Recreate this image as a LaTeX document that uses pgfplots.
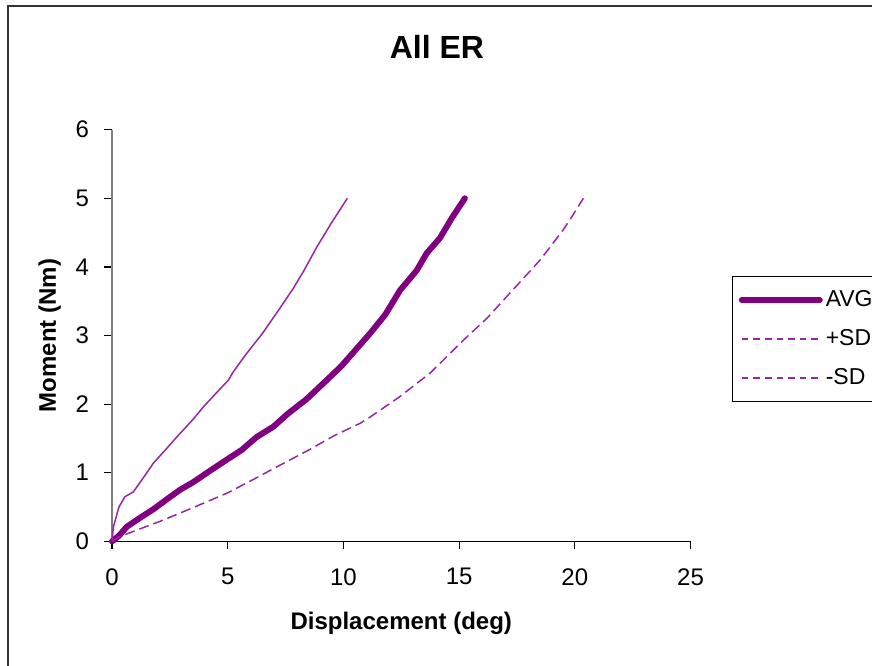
\documentclass[border=0pt]{standalone}
\usepackage{pgfplots}
\pgfplotsset{compat=1.18}
\usepackage{fontspec}
\setmainfont{Liberation Sans}
\definecolor{avg}{RGB}{128,0,128}
\definecolor{sd}{RGB}{150,40,160}
\begin{document}
\begin{tikzpicture}[x=1pt,y=1pt]
\path[use as bounding box] (0,0) rectangle (436,332.5);
\draw[line width=0.8pt, black!80] (4,-5) -- (4,329.5) -- (445,329.5);
\node[font=\bfseries\fontsize{16}{18}\selectfont] at (218.5,309) {All ER};
\begin{axis}[
  at={(56pt,61.85pt)}, anchor=south west,
  scale only axis, width=289.25pt, height=205.8pt,
  xmin=0, xmax=25, ymin=0, ymax=6,
  axis x line*=bottom, axis y line*=left,
  axis line style={-},
  x axis line style={black, line width=0.6pt},
  y axis line style={black!50, line width=1pt},
  xtick={0,5,...,25}, ytick={0,1,...,6},
  tick align=outside, major tick length=4pt,
  tick style={black, line width=0.6pt},
  ticklabel style={font=\fontsize{12}{14}\selectfont},
  /pgf/number format/assume math mode=true,
  xticklabel style={yshift=-6pt},
  yticklabel style={xshift=-4pt},
  xlabel={\bfseries Displacement (deg)},
  ylabel={\bfseries Moment (Nm)},
  label style={font=\fontsize{12}{14}\selectfont},
  xlabel style={at={(0.5,0)}, anchor=north, yshift=-32pt},
  ylabel style={at={(0,0.5)}, anchor=south, yshift=22pt},
  clip=false,
  legend style={at={(1.072,0.6446)}, anchor=north west, draw=black, line width=0.6pt,
    font=\fontsize{11.5}{13}\selectfont, row sep=6pt, inner xsep=3pt, inner ysep=5pt,
    nodes={inner xsep=1.5pt}},
  legend cell align=left,
  legend image code/.code={\draw[#1] (0,0) -- (39pt,0);},
]
\addplot[avg, line width=3pt, line cap=round, line join=round] coordinates {
(0,0) (0.3,0.08) (0.63,0.21) (1.2,0.34) (1.8,0.47) (2.4,0.62) (2.94,0.75)
(3.5,0.86) (4.2,1.02) (4.96,1.19) (5.6,1.33) (6.25,1.52) (6.97,1.67)
(7.6,1.86) (8.4,2.07) (9.28,2.35) (9.9,2.55) (10.5,2.78) (11.15,3.03)
(11.8,3.3) (12.45,3.66) (13.17,3.95) (13.6,4.2) (14.17,4.42) (14.7,4.72) (15.25,5.0)
};
\addlegendentry{AVG}
\addplot[sd, line width=0.75pt, forget plot] coordinates {
(0,0) (0.06,0.21) (0.3,0.5) (0.56,0.65) (0.92,0.72) (1.3,0.9) (1.79,1.14)
(2.3,1.33) (2.8,1.52) (3.51,1.78) (3.95,1.96) (4.5,2.16) (5.03,2.35)
(5.24,2.47) (5.8,2.73) (6.5,3.03) (7.26,3.40) (7.84,3.69) (8.3,3.95)
(8.85,4.29) (9.5,4.65) (10.17,5.0)
};
\addplot[sd, line width=0.75pt, dash pattern=on 5pt off 2.5pt, forget plot] coordinates {
(0,0) (0.35,0.07) (1.2,0.18) (2.07,0.29) (3.5,0.49) (4.96,0.70) (6.1,0.90)
(7.26,1.11) (8.5,1.33) (9.6,1.54) (10.72,1.72) (11.15,1.81) (12.4,2.1)
(13.74,2.45) (15.18,2.93) (16.2,3.25) (17.2,3.62) (18.5,4.10) (19.5,4.54)
(20.0,4.8) (20.37,5.0)
};
\addlegendimage{sd, line width=0.75pt, dash pattern=on 3.3pt off 2.5pt}
\addlegendentry{+SD}
\addlegendimage{sd, line width=0.75pt, dash pattern=on 3.3pt off 2.5pt}
\addlegendentry{-SD}
\end{axis}
\end{tikzpicture}
\end{document}
